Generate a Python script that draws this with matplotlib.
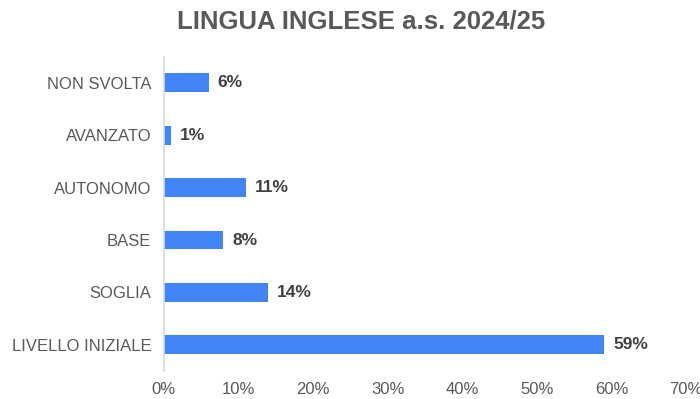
import matplotlib.pyplot as plt
from matplotlib.ticker import FuncFormatter

plt.rcParams['font.family'] = ['Liberation Sans', 'DejaVu Sans']

categories = ['LIVELLO INIZIALE', 'SOGLIA', 'BASE', 'AUTONOMO', 'AVANZATO', 'NON SVOLTA']
percent = [59, 14, 8, 11, 1, 6]
x_ticks = [0, 10, 20, 30, 40, 50, 60, 70]

bar_color = '#4285F4'
text_dark = '#404040'
text_gray = '#595959'

fig = plt.figure(figsize=(7, 3.99), dpi=100)
ax = fig.add_axes([0.234, 0.070, 0.746, 0.788])

y = range(len(categories))
ax.barh(y, percent, height=0.36, color=bar_color)

for yi, v in zip(y, percent):
    ax.annotate(f'{v}%', (v, yi), xytext=(6.5, 0), textcoords='offset points',
                va='center', ha='left', fontsize=12.5, fontweight='bold', color=text_dark)

ax.set_xlim(0, 70)
ax.set_ylim(-0.5, len(categories) - 0.5)
ax.set_yticks(list(y))
ax.set_yticklabels(categories)
ax.set_xticks(x_ticks)
ax.xaxis.set_major_formatter(FuncFormatter(lambda v, p: f'{v:.0f}%'))
ax.tick_params(axis='both', length=0, labelsize=12, labelcolor=text_gray)
ax.tick_params(axis='x', pad=8)
ax.tick_params(axis='y', pad=9)

for side in ['top', 'right', 'bottom']:
    ax.spines[side].set_visible(False)
ax.spines['left'].set_color('#D9D9D9')
ax.spines['left'].set_linewidth(1.2)

fig.text(0.516, 0.945, 'LINGUA INGLESE a.s. 2024/25', ha='center', va='center',
         fontsize=18.5, fontweight='bold', color=text_gray)

fig.savefig('out.png', dpi=100)
